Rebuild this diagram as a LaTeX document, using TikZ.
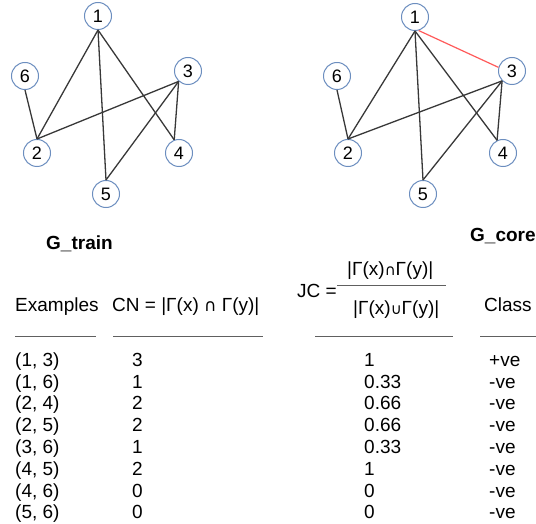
\documentclass[tikz,border=0pt]{standalone}
\usepackage{fontspec}
\setmainfont{Liberation Sans}
\newfontfamily\dvs{DejaVu Sans}
\definecolor{vblue}{HTML}{6C8EBF}
\definecolor{egray}{HTML}{383838}
\definecolor{ered}{HTML}{FF5A5A}
\definecolor{rgray}{HTML}{606060}
\begin{document}
\begin{tikzpicture}[x=1pt,y=-1pt,
  vtx/.style={circle,draw=vblue,line width=1pt,minimum size=27pt,inner sep=0pt,font=\fontsize{18}{18}\selectfont},
  edge/.style={draw=egray,line width=1.3pt},
  redge/.style={draw=ered,line width=1.2pt},
  txt/.style={anchor=base west,inner sep=0pt,font=\fontsize{19}{22}\selectfont},
  btxt/.style={txt,font=\fontsize{19}{22}\selectfont\bfseries},
  hrule/.style={draw=rgray,line width=1pt}]
\useasboundingbox (0,0) rectangle (536,524);
% left graph
\node[vtx] (n1) at (98,16) {1};
\node[vtx] (n6) at (25,76) {6};
\node[vtx] (n3) at (188,71) {3};
\node[vtx] (n2) at (37,153) {2};
\node[vtx] (n4) at (179,153) {4};
\node[vtx] (n5) at (106,194) {5};
\draw[edge] (n1.south) -- (n2.north);
\draw[edge] (n1.south) -- (n5.north);
\draw[edge] (n1.south) -- (n4.110);
\draw[edge] (n6.south) -- (n2.north);
\draw[edge] (n2.north) -- (n3.228);
\draw[edge] (n3.228) -- (n4.110);
\draw[edge] (n3.228) -- (n5.north);
% right graph
\node[vtx] (m1) at (415,17) {1};
\node[vtx] (m6) at (337,76) {6};
\node[vtx] (m3) at (512,71) {3};
\node[vtx] (m2) at (348,153) {2};
\node[vtx] (m4) at (503,153) {4};
\node[vtx] (m5) at (423,194) {5};
\draw[edge] (m1.south) -- (m2.north);
\draw[edge] (m1.south) -- (m5.north);
\draw[edge] (m1.south) -- (m4.115);
\draw[edge] (m6.south) -- (m2.north);
\draw[edge] (m2.north) -- (m3.225);
\draw[edge] (m3.225) -- (m4.115);
\draw[edge] (m3.225) -- (m5.north);
\draw[redge] (m1.-75) -- (m3.165);
% titles
\node[btxt] (gt) at (46,250) {G\_train};
\node[btxt] (gc) at (470,241) {G\_core};
% headers
\node[txt] (hex) at (15,311.6) {Examples};
\node[txt] (hcn) at (112,311.6) {CN = |Γ(x) {\dvs\fontsize{17}{17}\selectfont ∩} Γ(y)|};
\node[txt] (hjc) at (297,298) {JC =};
\node[txt] (hnum) at (347,276) {|Γ(x){\dvs\fontsize{15}{15}\selectfont ∩}Γ(y)|};
\node[txt] (hden) at (353,314) {|Γ(x){\dvs\fontsize{15}{15}\selectfont ∪}Γ(y)|};
\draw[hrule] (337,285) -- (446,285);
\node[txt] (hcl) at (484,311.6) {Class};
\draw[hrule] (15,336) -- (96,336);
\draw[hrule] (113,336) -- (263,336);
\draw[hrule] (315,336) -- (453,336);
\draw[hrule] (480,336) -- (536,336);
% rows
\foreach \i/\e/\c/\j/\k in {0/{(1, 3)}/3/1/+ve, 1/{(1, 6)}/1/0.33/-ve, 2/{(2, 4)}/2/0.66/-ve, 3/{(2, 5)}/2/0.66/-ve, 4/{(3, 6)}/1/0.33/-ve, 5/{(4, 5)}/2/1/-ve, 6/{(4, 6)}/0/0/-ve, 7/{(5, 6)}/0/0/-ve}{
  \node[txt] (e\i) at (15,366.2+21.8*\i) {\e};
  \node[txt] (c\i) at (132,366.2+21.8*\i) {\c};
  \node[txt] (j\i) at (364,366.2+21.8*\i) {\j};
  \node[txt] (k\i) at (489,366.2+21.8*\i) {\k};
}
\end{tikzpicture}
\end{document}
